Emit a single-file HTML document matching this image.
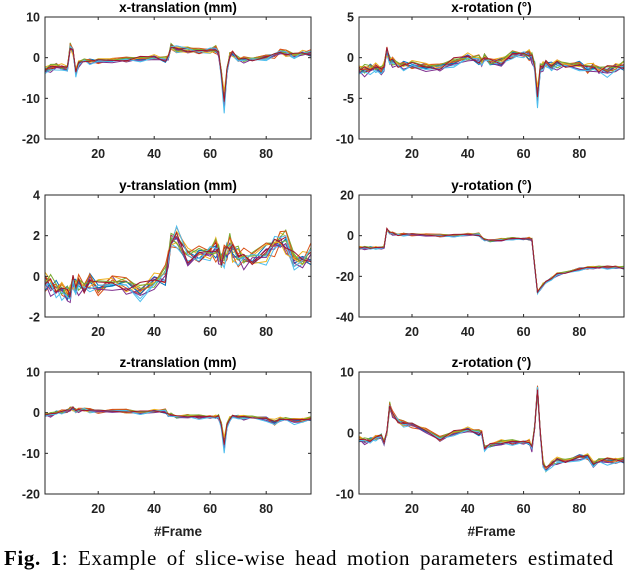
<!DOCTYPE html>
<html><head><meta charset="utf-8">
<style>
body{margin:0;background:#fff;width:640px;height:568px;overflow:hidden;position:relative}
svg{position:absolute;left:0;top:0}
.cap{position:absolute;left:4px;top:546px;font-family:"Liberation Serif",serif;font-size:21px;white-space:nowrap;letter-spacing:0.6px;word-spacing:4px}
</style></head><body>
<svg id="fig" width="640" height="568"></svg>
<div class="cap"><b>Fig. 1</b>: Example of slice-wise head motion parameters estimated</div>
<script>
const frames=[1,3,5,7,9,10,11,12,13,15,17,20,25,30,35,40,44,45,46,48,52,56,60,62,63,64,65,66,67,68,70,72,75,80,83,85,87,90,93,96];
const xTrans=[-3,-2.5,-2,-2.5,-2.5,2.5,1.5,-3.5,-1.5,-0.5,-1,-1,-0.5,-0.5,-0.3,0,-0.5,0,2.5,2,1.8,1.5,1.8,2,1,-4,-11,-3,0.5,1,-0.3,-0.5,-0.3,0,0.5,1.5,1,0.5,1,1];
const xRot=[-1.5,-1.5,-1.3,-1.3,-1.5,-1,0.8,-0.3,-0.5,-0.8,-1,-1,-1,-1.2,-0.5,0,-0.3,-0.5,0,-0.5,-0.5,0.3,0.5,0.3,0,-1,-5,-1.2,-1,-0.8,-1,-0.8,-0.8,-1,-1.5,-1,-1.5,-1.5,-1.2,-1];
const yTrans=[-0.3,-0.4,-0.6,-0.7,-0.8,-0.8,-0.3,-0.5,-0.4,-0.5,-0.3,-0.6,-0.2,-0.5,-0.7,-0.3,0,0.8,1.6,1.9,0.9,1,1.2,1.3,1.1,0.7,1,1.3,1.5,1.2,1,0.8,0.9,1.1,1.5,1.8,1.6,0.8,0.7,1];
const yRot=[-6,-6,-6,-6,-6,-5.5,3,1.5,1,0.5,0.5,0.5,0.5,0,0,0.5,0.5,-1,-2,-2.5,-2,-1.5,-1.5,-1.5,-2,-15,-28,-26,-24,-23,-21,-19,-18,-16.5,-16,-15.5,-15.5,-15.5,-15.5,-15.8];
const zTrans=[-0.5,-0.5,0,0.2,0.5,0.8,1,0.5,0.5,0.8,0.5,0.3,0.5,0.3,0,0.3,0.3,-0.5,-0.5,-1,-0.8,-1,-1,-1,-1,-3,-8,-3,-1.5,-1,-1,-1.2,-1,-1.5,-2.5,-1.5,-1.5,-2,-1.8,-1.5];
const zRot=[-1,-1.3,-1.2,-0.8,-0.5,-1.5,0,4.5,3,2,1.5,1.3,0.5,-1,0,0.5,0,0,-2.5,-2,-1.5,-1.5,-1.5,-1.5,-2.5,1,7,0,-5,-6,-5,-4.5,-4.5,-4,-4,-5,-4.5,-4.5,-4.5,-4.5];
const seriesScale=[1,0.85,1.1,0.95,1.2,0.9,1.05,1,1.15,0.8,1.1,0.95,1.25,1];
const seriesOffset=[0.2,-0.3,0.4,-0.1,0.3,-0.4,0.1,-0.2,0.5,0,-0.5,0.3,-0.2,0.1];
const jitter=[0.3,-0.5,0.8,-0.2,0.6,-0.9,0.1,0.7,-0.4,-0.6,0.9,0.2,-0.8,0.4,-0.1,0.5,-0.7,0.3,0.0,-0.3,0.6,-0.5,0.2];
const colors=["#0072BD","#D95319","#EDB120","#7E2F8E","#77AC30","#4DBEEE","#A2142F"];
const panels=[
 {name:"x-translation",title:"x-translation (mm)",data:xTrans,x0:45,x1:311,y0:17,y1:139,ymin:-20,ymax:10,ticks:[-20,-10,0,10],amp:0.6,sf:1},
 {name:"x-rotation",title:"x-rotation (°)",data:xRot,x0:359,x1:624,y0:17,y1:139,ymin:-10,ymax:5,ticks:[-10,-5,0,5],amp:0.5,sf:1},
 {name:"y-translation",title:"y-translation (mm)",data:yTrans,x0:45,x1:311,y0:195,y1:317,ymin:-2,ymax:4,ticks:[-2,0,2,4],amp:0.4,sf:0.6},
 {name:"y-rotation",title:"y-rotation (°)",data:yRot,x0:359,x1:624,y0:195,y1:317,ymin:-40,ymax:20,ticks:[-40,-20,0,20],amp:0.6,sf:0.08},
 {name:"z-translation",title:"z-translation (mm)",data:zTrans,x0:45,x1:311,y0:372,y1:494,ymin:-20,ymax:10,ticks:[-20,-10,0,10],amp:0.4,sf:1},
 {name:"z-rotation",title:"z-rotation (°)",data:zRot,x0:359,x1:624,y0:372,y1:494,ymin:-10,ymax:10,ticks:[-10,0,10],amp:0.4,sf:0.3}
];
const xTicks=[20,40,60,80];
const NS="http://www.w3.org/2000/svg";
const svg=document.getElementById('fig');
function mk(t,a,p){const e=document.createElementNS(NS,t);for(const k in a)e.setAttribute(k,a[k]);(p||svg).appendChild(e);return e;}
panels.forEach((P,pi)=>{
 const g=mk('g',{});
 
 
 const sx=v=>P.x0+(v-1)/(96-1)*(P.x1-P.x0);
 const sy=v=>P.y1-(v-P.ymin)/(P.ymax-P.ymin)*(P.y1-P.y0);
 const t=mk('text',{x:(P.x0+P.x1)/2,y:P.y0-5,'text-anchor':'middle','font-family':'Liberation Sans, sans-serif','font-size':'13.5','font-weight':'bold'},g);
 t.textContent=P.title;
 
 
 const clip=mk('clipPath',{id:'c'+pi},g);
 mk('rect',{x:P.x0,y:P.y0,width:P.x1-P.x0,height:P.y1-P.y0},clip);
 const lg=mk('g',{'clip-path':'url(#c'+pi+')'},g);
 for(let s=0;s<14;s++){
  let d='';
  frames.forEach((f,i)=>{
   const v=P.data[i]*(1+(seriesScale[s]-1)*P.sf)+(seriesOffset[s]+jitter[(i+s*5)%jitter.length])*P.amp;
   d+=(i?'L':'M')+sx(f).toFixed(1)+','+sy(v).toFixed(1);
  });
  const l=mk('path',{d:d,fill:'none',stroke:colors[s%7],'stroke-width':'1'},lg);
  
  
 }
 const box=mk('rect',{x:P.x0,y:P.y0,width:P.x1-P.x0,height:P.y1-P.y0,fill:'none',stroke:'#262626','stroke-width':'1'},g);
 
 
 P.ticks.forEach(v=>{
  mk('line',{x1:P.x0,x2:P.x0+3,y1:sy(v),y2:sy(v),stroke:'#262626'},g);
  mk('line',{x1:P.x1,x2:P.x1-3,y1:sy(v),y2:sy(v),stroke:'#262626'},g);
  const tl=mk('text',{x:P.x0-5,y:sy(v)+4.5,'text-anchor':'end','font-family':'Liberation Sans, sans-serif','font-size':'12.5','font-weight':'bold','fill':'#222'},g);
  tl.textContent=v;
  
  
 });
 xTicks.forEach(v=>{
  mk('line',{x1:sx(v),x2:sx(v),y1:P.y1,y2:P.y1-3,stroke:'#262626'},g);
  mk('line',{x1:sx(v),x2:sx(v),y1:P.y0,y2:P.y0+3,stroke:'#262626'},g);
  const tl=mk('text',{x:sx(v),y:P.y1+19,'text-anchor':'middle','font-family':'Liberation Sans, sans-serif','font-size':'12.5','font-weight':'bold','fill':'#222'},g);
  tl.textContent=v;
  
  
 });
 if(pi>=4){
  const xl=mk('text',{x:(P.x0+P.x1)/2,y:536,'text-anchor':'middle','font-family':'Liberation Sans, sans-serif','font-size':'13.5','font-weight':'bold','fill':'#222'},g);
  xl.textContent='#Frame';
  
  
 }
});
</script>
</body></html>
